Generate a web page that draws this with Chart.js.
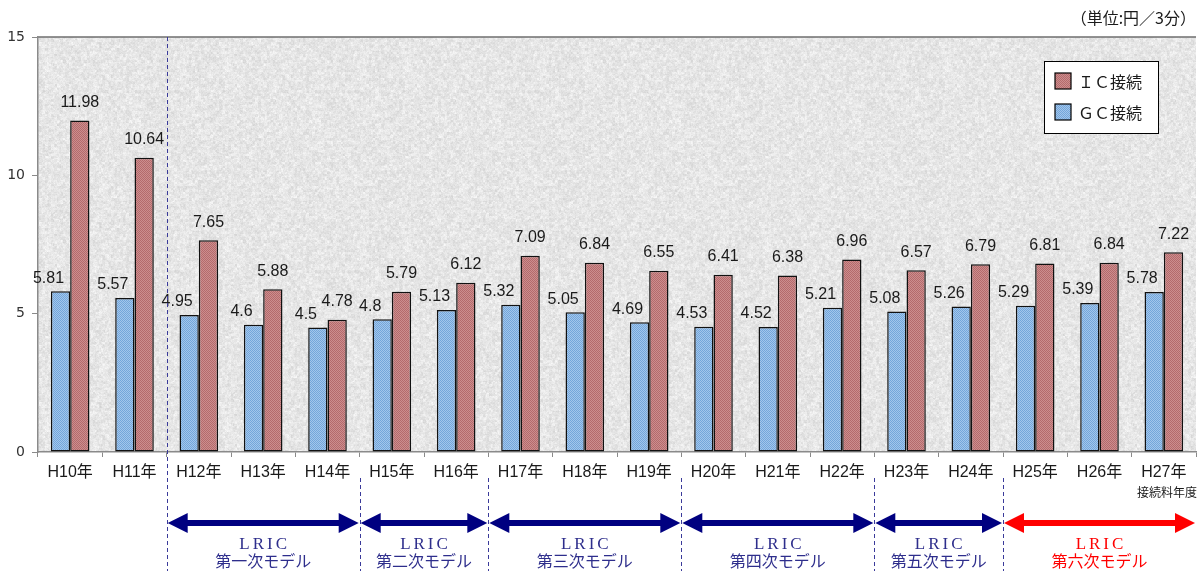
<!DOCTYPE html>
<html>
<head>
<meta charset="utf-8">
<script src="https://cdn.jsdelivr.net/npm/chart.js@4"></script>
<style>
  html, body { margin: 0; padding: 0; background: #ffffff; }
  #wrap { width: 1198px; height: 571px; position: relative; }
</style>
</head>
<body>
<div id="wrap"><canvas id="chartLric"></canvas></div>
<script>
  const years = ["H10年", "H11年", "H12年", "H13年", "H14年", "H15年", "H16年", "H17年", "H18年",
    "H19年", "H20年", "H21年", "H22年", "H23年", "H24年", "H25年", "H26年", "H27年"];
  const gcValues = [5.81, 5.57, 4.95, 4.6, 4.5, 4.8, 5.13, 5.32, 5.05, 4.69, 4.53, 4.52, 5.21, 5.08, 5.26, 5.29, 5.39, 5.78];
  const icValues = [11.98, 10.64, 7.65, 5.88, 4.78, 5.79, 6.12, 7.09, 6.84, 6.55, 6.41, 6.38, 6.96, 6.57, 6.79, 6.81, 6.84, 7.22];
  const yTicks = [0, 5, 10, 15];
  const modelNames = ["第一次モデル", "第二次モデル", "第三次モデル", "第四次モデル", "第五次モデル", "第六次モデル"];
  const modelFirst = [2, 5, 7, 10, 13, 15];
  const modelLast = [4, 6, 9, 12, 14, 17];

  const COLORS = {
    navy: "#000080",
    navyText: "#2e2e8c",
    red: "#ff0000",
    axis: "#8a8a8a",
    text: "#1a1a1a"
  };
  const SANS = "'Liberation Sans', Arial, 'Noto Sans CJK JP', sans-serif";
  const JP = "'Noto Sans CJK JP', 'Liberation Sans', sans-serif";

  function hash(x, y, s) {
    const v = Math.sin(x * 12.9898 + y * 78.233 + s * 37.719) * 43758.5453;
    return v - Math.floor(v);
  }

  // granite-like grey texture for the plot area
  function makeTexture() {
    const size = 180;
    const c = document.createElement("canvas");
    c.width = size; c.height = size;
    const g = c.getContext("2d");
    const img = g.createImageData(size, size);
    for (let y = 0; y < size; y++) {
      for (let x = 0; x < size; x++) {
        const coarse = hash(Math.floor(x / 3), Math.floor(y / 3), 1) - 0.5;
        const mid = hash(Math.floor((x + 1) / 2), Math.floor(y / 2), 2) - 0.5;
        const fine = hash(x, y, 3) - 0.5;
        let v = 230 + coarse * 14 + mid * 14 + fine * 12;
        v = Math.max(195, Math.min(252, v));
        const i = (y * size + x) * 4;
        img.data[i] = v; img.data[i + 1] = v; img.data[i + 2] = v; img.data[i + 3] = 255;
      }
    }
    g.putImageData(img, 0, 0);
    return g.createPattern(c, "repeat");
  }

  // small checker dither like the original bar fill
  function makeDither(base, dot) {
    const c = document.createElement("canvas");
    c.width = 2; c.height = 2;
    const g = c.getContext("2d");
    g.fillStyle = base; g.fillRect(0, 0, 2, 2);
    g.fillStyle = dot; g.fillRect(0, 0, 1, 1); g.fillRect(1, 1, 1, 1);
    return g.createPattern(c, "repeat");
  }

  const texture = makeTexture();
  const redFill = makeDither("#cc8e8e", "#b46a6c");
  const blueFill = makeDither("#a2c6ec", "#74a6da");

  const backgroundPlugin = {
    id: "backgroundPlugin",
    beforeDraw(chart) {
      const { ctx, chartArea: a } = chart;
      ctx.save();
      ctx.fillStyle = texture;
      ctx.fillRect(a.left, a.top, a.right - a.left, a.bottom - a.top);
      ctx.strokeStyle = "#6e6e6e";
      ctx.lineWidth = 1.5;
      ctx.beginPath();
      ctx.moveTo(a.left, a.top);
      ctx.lineTo(a.right, a.top);
      ctx.stroke();
      ctx.restore();
    }
  };

  const valueLabelPlugin = {
    id: "valueLabelPlugin",
    afterDatasetsDraw(chart) {
      const { ctx } = chart;
      ctx.save();
      ctx.font = "16px " + SANS;
      ctx.fillStyle = COLORS.text;
      ctx.textAlign = "center";
      ctx.textBaseline = "middle";
      chart.data.datasets.forEach((ds, di) => {
        const meta = chart.getDatasetMeta(di);
        meta.data.forEach((bar, i) => {
          const isGc = di === 0;
          const x = bar.x + (isGc ? -12 : 0);
          const y = bar.y - (isGc ? 13 : 18);
          ctx.fillText(String(ds.data[i]), x, y);
        });
      });
      ctx.restore();
    }
  };

  const overlayPlugin = {
    id: "overlayPlugin",
    afterDraw(chart) {
      const { ctx, chartArea: a } = chart;
      const xs = chart.scales.x;
      const half = (xs.getPixelForValue(1) - xs.getPixelForValue(0)) / 2;
      const H = chart.height;

      ctx.save();

      // unit label
      ctx.font = "16px " + JP;
      ctx.fillStyle = COLORS.text;
      ctx.textAlign = "right";
      ctx.textBaseline = "middle";
      ctx.fillText("（単位:円／3分）", 1196, 18);

      // fiscal-year caption
      ctx.font = "12px " + JP;
      ctx.fillText("接続料年度", 1197, 492);

      // legend
      const lx = 1044, ly = 61, lw = 114, lh = 72;
      ctx.fillStyle = "#ffffff";
      ctx.fillRect(lx, ly, lw, lh);
      ctx.strokeStyle = "#000000";
      ctx.lineWidth = 1;
      ctx.strokeRect(lx + 0.5, ly + 0.5, lw, lh);
      const items = [["ＩＣ接続", redFill, 81], ["ＧＣ接続", blueFill, 112]];
      items.forEach(([label, fill, cy]) => {
        ctx.fillStyle = fill;
        ctx.fillRect(lx + 11, cy - 8, 16, 16);
        ctx.strokeStyle = "#000000";
        ctx.lineWidth = 1.2;
        ctx.strokeRect(lx + 11, cy - 8, 16, 16);
        ctx.fillStyle = COLORS.text;
        ctx.textAlign = "left";
        ctx.font = "16px " + JP;
        ctx.fillText(label, lx + 34, cy + 1);
      });

      // model period dividers
      ctx.setLineDash([4, 3]);
      ctx.lineWidth = 1;
      ctx.strokeStyle = "#3a3a9a";
      const firstX = xs.getPixelForValue(modelFirst[0]) - half;
      ctx.beginPath();
      ctx.moveTo(Math.round(firstX) + 0.5, a.top);
      ctx.lineTo(Math.round(firstX) + 0.5, H);
      ctx.stroke();
      modelFirst.forEach((f, k) => {
        const bx = Math.round(xs.getPixelForValue(f) - half) + 0.5;
        if (k > 0) {
          ctx.beginPath();
          ctx.moveTo(bx, 478);
          ctx.lineTo(bx, H);
          ctx.stroke();
        }
      });
      ctx.setLineDash([]);

      // double-headed arrows and captions
      const ay = 523;
      modelFirst.forEach((f, k) => {
        const x1 = xs.getPixelForValue(f) - half + 1;
        const x2 = Math.min(xs.getPixelForValue(modelLast[k]) + half, a.right) - 1;
        const col = k === 5 ? COLORS.red : COLORS.navy;
        const headL = 20, headW = 10;
        ctx.fillStyle = col;
        ctx.fillRect(x1 + headL - 2, ay - 3, x2 - x1 - 2 * headL + 4, 6);
        ctx.beginPath();
        ctx.moveTo(x1, ay);
        ctx.lineTo(x1 + headL, ay - headW);
        ctx.lineTo(x1 + headL, ay + headW);
        ctx.closePath();
        ctx.fill();
        ctx.beginPath();
        ctx.moveTo(x2, ay);
        ctx.lineTo(x2 - headL, ay - headW);
        ctx.lineTo(x2 - headL, ay + headW);
        ctx.closePath();
        ctx.fill();

        const cx = (x1 + x2) / 2;
        ctx.fillStyle = k === 5 ? COLORS.red : COLORS.navyText;
        ctx.textAlign = "center";
        ctx.textBaseline = "middle";
        ctx.font = "17px 'Liberation Serif', 'DejaVu Serif', serif";
        ctx.letterSpacing = "3px";
        ctx.fillText("LRIC", cx + 1.5, 545);
        ctx.letterSpacing = "0px";
        ctx.font = "16px " + JP;
        ctx.fillText(modelNames[k], cx, 561);
      });

      ctx.restore();
    }
  };

  new Chart(document.getElementById("chartLric"), {
    type: "bar",
    data: {
      labels: years,
      datasets: [
        {
          label: "ＧＣ接続",
          data: gcValues,
          backgroundColor: blueFill,
          borderColor: "#111111",
          borderWidth: 1.5,
          borderSkipped: false,
          categoryPercentage: 0.6,
          barPercentage: 1.0
        },
        {
          label: "ＩＣ接続",
          data: icValues,
          backgroundColor: redFill,
          borderColor: "#111111",
          borderWidth: 1.5,
          borderSkipped: false,
          categoryPercentage: 0.6,
          barPercentage: 1.0
        }
      ]
    },
    options: {
      responsive: true,
      maintainAspectRatio: false,
      animation: false,
      layout: { padding: { top: 37, right: 2, left: 0, bottom: 0 } },
      plugins: {
        legend: { display: false },
        tooltip: { enabled: false }
      },
      scales: {
        x: {
          afterFit(s) { s.height = 119; },
          grid: {
            offset: true,
            drawOnChartArea: false,
            drawTicks: true,
            tickLength: 5,
            color: COLORS.axis
          },
          border: { color: COLORS.axis, width: 1.5 },
          ticks: {
            color: COLORS.text,
            padding: 6,
            maxRotation: 0,
            autoSkip: false,
            font: { size: 16, family: SANS }
          }
        },
        y: {
          min: 0,
          max: 15,
          afterFit(s) { s.width = 38; },
          afterBuildTicks(s) { s.ticks = yTicks.map((v) => ({ value: v })); },
          grid: {
            drawOnChartArea: false,
            drawTicks: true,
            tickLength: 6,
            color: COLORS.axis
          },
          border: { color: COLORS.axis, width: 1.5 },
          ticks: {
            color: "#333333",
            padding: 7,
            font: { size: 14, family: "'DejaVu Sans', " + SANS }
          }
        }
      }
    },
    plugins: [backgroundPlugin, valueLabelPlugin, overlayPlugin]
  });
</script>
</body>
</html>
